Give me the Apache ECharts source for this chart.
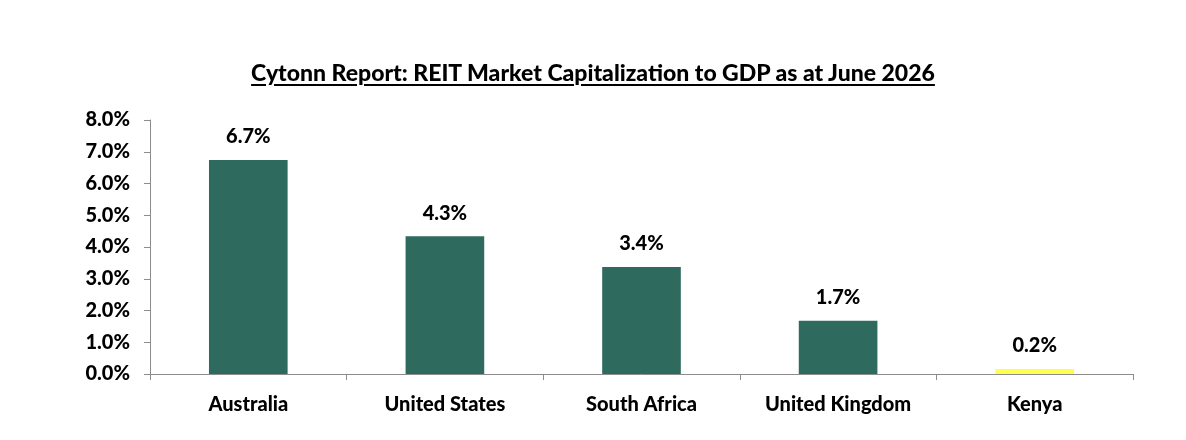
<!DOCTYPE html>
<html>
<head>
<meta charset="utf-8">
<script src="https://cdn.jsdelivr.net/npm/echarts@6/dist/echarts.min.js"></script>
<style>
    html, body { margin: 0; padding: 0; background: #fff; }
    #wrap { position: relative; width: 1186px; height: 440px; }
    #title {
        position: absolute; left: 0; top: 58px; width: 1186px; text-align: center;
        font-family: Lato, "Open Sans", sans-serif; font-weight: 900; font-size: 23px;
        text-decoration: underline; text-underline-offset: 3px; text-decoration-thickness: 2px; color: #000;
    }
    #chart { position: absolute; left: 0; top: 0; width: 1186px; height: 440px; }
</style>
</head>
<body>
<div id="wrap">
    <div id="chart"></div>
    <div id="title">Cytonn Report: REIT Market Capitalization to GDP as at June 2026</div>
</div>
<script>
let countries = ['Australia', 'United States', 'South Africa', 'United Kingdom', 'Kenya'];
let ratios = [6.74, 4.34, 3.37, 1.68, 0.16];
let labels = ['6.7%', '4.3%', '3.4%', '1.7%', '0.2%'];
let barColors = ['#2e6b5e', '#2e6b5e', '#2e6b5e', '#2e6b5e', '#ffff4d'];

var font = 'Lato, "Open Sans", sans-serif';
var chart = echarts.init(document.getElementById('chart'));
var option = {
    animation: false,
    grid: { left: 150, right: 53, top: 120, bottom: 66 },
    xAxis: {
        type: 'category',
        data: countries,
        axisLine: { lineStyle: { color: '#8c8c8c' } },
        axisTick: { show: true, length: 6, lineStyle: { color: '#8c8c8c' } },
        axisLabel: { color: '#000', fontFamily: font, fontWeight: 900, fontSize: 20, margin: 21 }
    },
    yAxis: {
        type: 'value',
        min: 0,
        max: 8,
        interval: 1,
        splitLine: { show: false },
        axisLine: { show: true, lineStyle: { color: '#8c8c8c' } },
        axisTick: { show: true, inside: false, length: 6, lineStyle: { color: '#8c8c8c' } },
        axisLabel: {
            color: '#000', fontFamily: font, fontWeight: 900, fontSize: 20, margin: 20,
            formatter: function (v) { return v.toFixed(1) + '%'; }
        }
    },
    series: [{
        type: 'bar',
        barWidth: '40%',
        data: ratios.map(function (v, i) {
            return { value: v, itemStyle: { color: barColors[i] } };
        }),
        label: {
            show: true,
            position: 'top',
            distance: 13,
            color: '#000',
            fontFamily: font,
            fontWeight: 900,
            fontSize: 20,
            formatter: function (p) { return labels[p.dataIndex]; }
        }
    }]
};
chart.setOption(option);
</script>
</body>
</html>
